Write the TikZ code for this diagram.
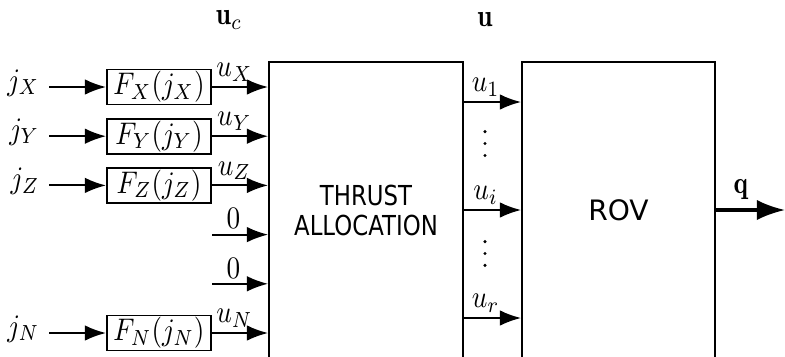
\documentclass[tikz,border=0pt]{standalone}
\usepackage{fontspec}
\usepackage{amsmath}
\newfontfamily\blocksans{DejaVu Sans}
\newfontfamily\blocksanscond{DejaVu Sans}[FakeStretch=0.83]
\usetikzlibrary{arrows.meta}
\newcommand\sq[1]{\scalebox{0.87}[1]{#1}}
\begin{document}
\begin{tikzpicture}[x=0.32pt,y=-0.32pt,
  fblock/.style={draw, line width=0.6pt, minimum width=33.3pt, minimum height=11.2pt, inner sep=0pt},
  bigblock/.style={draw, line width=0.6pt, minimum height=94.72pt, inner sep=0pt},
  sig/.style={line width=0.6pt, -{Latex[length=6.8pt,width=5pt]}},
  lbl/.style={inner sep=1.5pt},
  inlbl/.style={anchor=base east, inner sep=2.9pt},
  dotmark/.style={fill=black},
]
\useasboundingbox (0,0) rectangle (785,356);
\clip (0,0) rectangle (785,356);

% main blocks
\node[bigblock, minimum width=62.08pt, align=center,
      font=\blocksanscond\fontsize{8.8}{9.6}\selectfont] (ta) at (366,210) {THRUST\\ALLOCATION};
\node[bigblock, minimum width=61.76pt,
      font=\blocksans\fontsize{9}{11}\selectfont] (rov) at (618.5,210) {ROV};

% top labels
\node (uc) at (229,20) {\sq{$\mathbf{u}_c$}};
\node (uu) at (485,20) {\sq{$\mathbf{u}$}};

% input rows
\node[fblock] (FX) at (159,87) {\sq{$F_X(j_X)$}};
\node[fblock] (FY) at (159,136.2) {\sq{$F_Y(j_Y)$}};
\node[fblock] (FZ) at (159,185.4) {\sq{$F_Z(j_Z)$}};
\node[fblock] (FN) at (159,333) {\sq{$F_N(j_N)$}};

\node[inlbl] (jX) at (49,90) {\sq{$j_X$}};
\node[inlbl] (jY) at (49,139.2) {\sq{$j_Y$}};
\node[inlbl] (jZ) at (49,188.4) {\sq{$j_Z$}};
\node[inlbl] (jN) at (49,336) {\sq{$j_N$}};

\draw[sig] (FX.west -| jX.east) -- (FX.west);
\draw[sig] (FY.west -| jY.east) -- (FY.west);
\draw[sig] (FZ.west -| jZ.east) -- (FZ.west);
\draw[sig] (FN.west -| jN.east) -- (FN.west);

\draw[sig] (FX.east) -- (FX.east -| ta.west) node[lbl, above, pos=0.4] {\sq{$u_X$}};
\draw[sig] (FY.east) -- (FY.east -| ta.west) node[lbl, above, pos=0.4] {\sq{$u_Y$}};
\draw[sig] (FZ.east) -- (FZ.east -| ta.west) node[lbl, above, pos=0.4] {\sq{$u_Z$}};
\draw[sig] (FN.east) -- (FN.east -| ta.west) node[lbl, above, pos=0.4] {\sq{$u_N$}};

\coordinate (z1) at (212,234.6);
\coordinate (z2) at (212,283.8);
\draw[sig] (z1) -- (z1 -| ta.west) node[lbl, above, pos=0.38] {\sq{$0$}};
\draw[sig] (z2) -- (z2 -| ta.west) node[lbl, above, pos=0.38] {\sq{$0$}};

% thrust outputs
\coordinate (r1) at (0,102);
\coordinate (ri) at (0,210);
\coordinate (rr) at (0,318);
\draw[sig] (ta.east |- r1) -- (rov.west |- r1) node[lbl, above, pos=0.38] {\sq{$u_1$}};
\draw[sig] (ta.east |- ri) -- (rov.west |- ri) node[lbl, above, pos=0.38] {\sq{$u_i$}};
\draw[sig] (ta.east |- rr) -- (rov.west |- rr) node[lbl, above, pos=0.38] {\sq{$u_r$}};

% vertical ellipses
\foreach \yy in {131.7,143.5,155.5,241.7,253.5,265.3}
  \fill[dotmark] (485,\yy) circle[radius=0.55pt];

% output
\coordinate (qend) at (785,210);
\draw[line width=1pt, -{Latex[length=9pt,width=6.5pt]}] (rov.east) -- (qend)
   node[above, inner sep=3pt, pos=0.36] {\sq{$\mathbf{q}$}};
\end{tikzpicture}
\end{document}
